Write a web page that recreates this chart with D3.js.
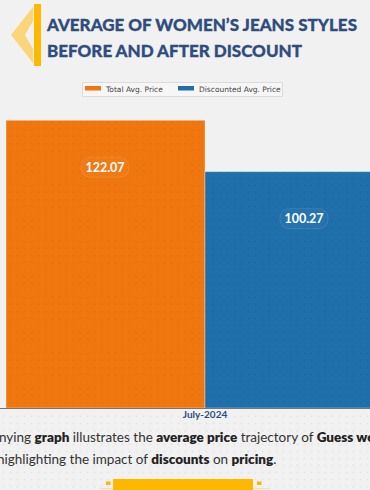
<!DOCTYPE html>
<html>
<head>
<meta charset="utf-8">
<script src="https://cdn.jsdelivr.net/npm/d3@7"></script>
<style>
  html, body { margin: 0; padding: 0; background: #f1f1f1; overflow: hidden; }
  svg { display: block; }
</style>
</head>
<body>
<script>
const categories = ['July-2024'];
const series = ['Total Avg. Price', 'Discounted Avg. Price'];
const values = [122.07, 100.27];
const titleLines = ['AVERAGE OF WOMEN\u2019S JEANS STYLES', 'BEFORE AND AFTER DISCOUNT'];
const noteLine1 = [['The accompanying ', false], ['graph', true], [' illustrates the ', false], ['average price', true], [' trajectory of ', false], ['Guess women\u2019s', true], [' jeans styles,', false]];
const noteLine2 = [['highlighting the impact of ', false], ['discounts', true], [' on ', false], ['pricing', true], ['.', false]];

const W = 370, H = 490;
const colors = ['#f0770f', '#1f6fab'];

const svg = d3.select('body').append('svg')
  .attr('width', W)
  .attr('height', H);

const defs = svg.append('defs');
const dots = defs.append('pattern')
  .attr('id', 'dots')
  .attr('width', 7)
  .attr('height', 7)
  .attr('patternUnits', 'userSpaceOnUse');
dots.append('circle')
  .attr('cx', 3.5)
  .attr('cy', 3.5)
  .attr('r', 0.9)
  .attr('fill', 'rgba(0,0,0,0.05)');

svg.append('rect')
  .attr('width', W)
  .attr('height', H)
  .attr('fill', '#f1f1f1');

// title decoration
svg.append('polygon')
  .attr('points', '33,7 11,35 33,63 33,49 25,35 33,21')
  .attr('fill', '#fcd36a')
  .attr('opacity', 0.9);
svg.append('rect')
  .attr('x', 34)
  .attr('y', 4)
  .attr('width', 7)
  .attr('height', 62)
  .attr('fill', '#ffb700');

svg.selectAll('.title')
  .data(titleLines)
  .enter()
  .append('text')
  .attr('class', 'title')
  .attr('x', 47)
  .attr('y', (d, i) => 31 + i * 26)
  .attr('font-family', 'Lato, sans-serif')
  .attr('font-weight', 900)
  .attr('font-size', 17)
  .attr('fill', '#2f4c7e')
  .attr('stroke', '#2f4c7e')
  .attr('stroke-width', 0.3)
  .text(d => d);

// legend
const legend = svg.append('g');
legend.append('rect')
  .attr('x', 82.5)
  .attr('y', 82.5)
  .attr('width', 200)
  .attr('height', 14)
  .attr('fill', 'rgba(255,255,255,0.35)')
  .attr('stroke', '#dcdcdc');
const legendX = [85, 178];
series.forEach((s, i) => {
  legend.append('rect')
    .attr('x', legendX[i])
    .attr('y', 86)
    .attr('width', 16)
    .attr('height', 4.5)
    .attr('fill', colors[i]);
  legend.append('text')
    .attr('x', legendX[i] + 21)
    .attr('y', 92)
    .attr('font-family', '"DejaVu Sans", sans-serif')
    .attr('font-size', 7.5)
    .attr('fill', '#444')
    .text(s);
});

// chart
const x0 = d3.scaleBand()
  .domain(categories)
  .range([6, 404])
  .padding(0);

const x1 = d3.scaleBand()
  .domain(series)
  .range([0, x0.bandwidth()])
  .padding(0);

const y = d3.scaleLinear()
  .domain([0, 140])
  .range([408, 78]);

const bars = svg.append('g');
categories.forEach(c => {
  series.forEach((s, i) => {
    bars.append('rect')
      .attr('x', x0(c) + x1(s))
      .attr('y', y(values[i]))
      .attr('width', x1.bandwidth())
      .attr('height', y(0) - y(values[i]))
      .attr('fill', colors[i])
      .attr('stroke', 'rgba(255,255,255,0.35)')
      .attr('stroke-width', 1);
    bars.append('rect')
      .attr('x', x0(c) + x1(s))
      .attr('y', y(values[i]))
      .attr('width', x1.bandwidth())
      .attr('height', y(0) - y(values[i]))
      .attr('fill', 'url(#dots)');
  });
});

// value labels
categories.forEach(c => {
  series.forEach((s, i) => {
    const cx = x0(c) + x1(s) + x1.bandwidth() / 2 - 0.5;
    const cy = y(values[i]) + 47;
    const g = svg.append('g');
    g.append('rect')
      .attr('x', cx - 24)
      .attr('y', cy - 10)
      .attr('width', 48)
      .attr('height', 20)
      .attr('rx', 9)
      .attr('fill', 'rgba(255,255,255,0.03)')
      .attr('stroke', 'rgba(255,255,255,0.1)');
    g.append('text')
      .attr('x', cx)
      .attr('y', cy + 4.5)
      .attr('text-anchor', 'middle')
      .attr('font-family', 'Lato, sans-serif')
      .attr('font-weight', 700)
      .attr('font-size', 12.5)
      .attr('fill', '#fff')
      .text(values[i].toFixed(2));
  });
});

const xAxis = svg.append('g')
  .attr('transform', `translate(0,${y(0)})`)
  .call(d3.axisBottom(x0).tickSize(0).tickPadding(3));
xAxis.select('.domain')
  .attr('d', `M0,0.5H${W}`)
  .attr('stroke', '#777');
xAxis.selectAll('text')
  .attr('font-family', 'Lato, sans-serif')
  .attr('font-weight', 700)
  .attr('font-size', 10)
  .attr('fill', '#2f4c7e');

// dotted background overlay
svg.append('rect')
  .attr('y', 412)
  .attr('width', W)
  .attr('height', 78)
  .attr('fill', 'url(#dots)');

// note text
function noteText(parts, yPos) {
  const t = svg.append('text')
    .attr('y', yPos)
    .attr('font-family', 'Lato, sans-serif')
    .attr('font-size', 13.5)
    .attr('fill', '#333');
  parts.forEach(p => {
    t.append('tspan')
      .attr('font-weight', p[1] ? 800 : 400)
      .attr('fill', p[1] ? '#222' : '#333')
      .text(p[0]);
  });
  return t;
}
const l1 = noteText(noteLine1, 442);
const cut = l1.node().getSubStringLength(0, 'The accompa'.length);
l1.attr('x', -cut - 1);
noteText(noteLine2, 464).attr('x', -3);

// bottom button
const btn = svg.append('g');
btn.append('rect')
  .attr('x', 113)
  .attr('y', 479)
  .attr('width', 140)
  .attr('height', 12)
  .attr('fill', '#ffb700');
[106, 257].forEach(bx => {
  btn.append('rect')
    .attr('x', bx)
    .attr('y', 481.5)
    .attr('width', 4.5)
    .attr('height', 3.5)
    .attr('fill', '#ffb700');
});
btn.append('line')
  .attr('x1', 100)
  .attr('x2', 270)
  .attr('y1', 488.5)
  .attr('y2', 488.5)
  .attr('stroke', 'rgba(255,183,0,0.3)');
</script>
</body>
</html>
